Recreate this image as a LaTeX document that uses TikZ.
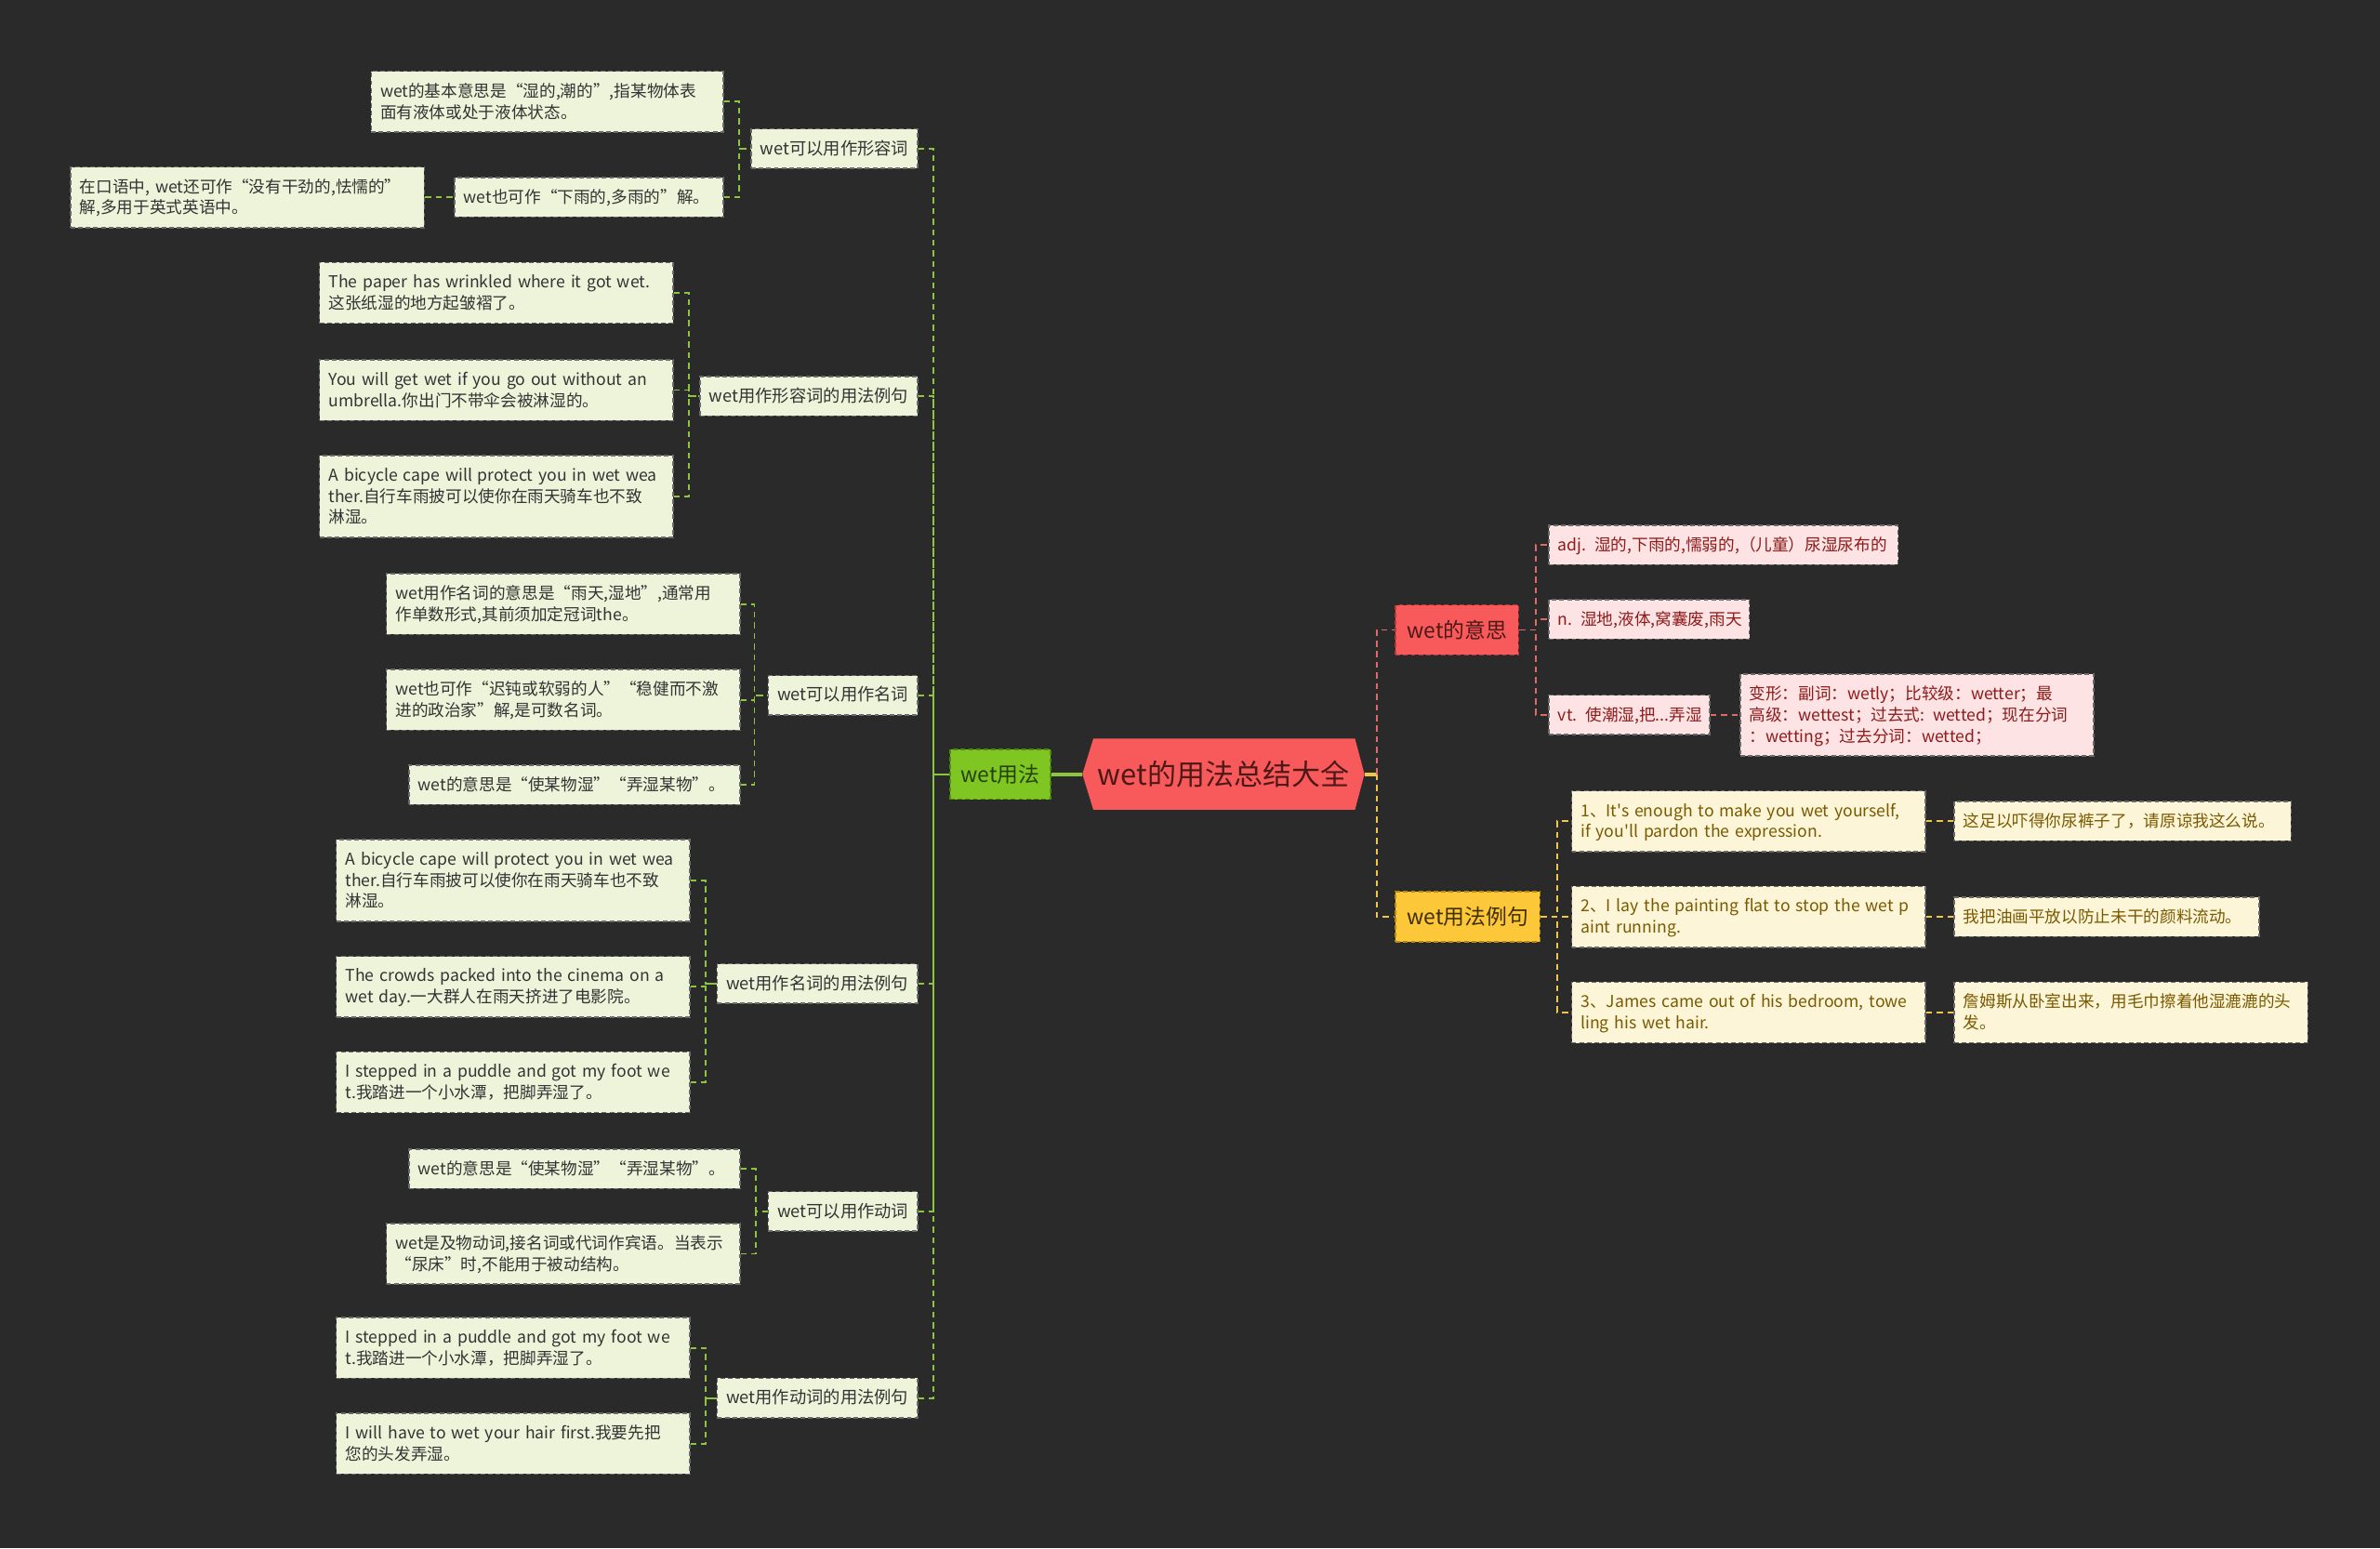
\documentclass[tikz,border=0pt]{standalone}
\usepackage{fontspec}
\newfontfamily\nf{Noto Sans CJK SC}
\definecolor{bgc}{HTML}{2A2A2A}
\definecolor{gfill}{HTML}{EDF4DA}
\definecolor{gtext}{HTML}{333333}
\definecolor{gline}{HTML}{8CC63F}
\definecolor{gL1}{HTML}{80C622}
\definecolor{gL1line}{HTML}{4E8A10}
\definecolor{gL1text}{HTML}{24420A}
\definecolor{rootred}{HTML}{F85A5B}
\definecolor{roottext}{HTML}{4D1818}
\definecolor{rline}{HTML}{E06A6A}
\definecolor{rL1line}{HTML}{B83838}
\definecolor{pfill}{HTML}{FDE3E3}
\definecolor{ptext}{HTML}{8E1B1B}
\definecolor{yline}{HTML}{EFC54A}
\definecolor{yL1}{HTML}{FCC83A}
\definecolor{yL1line}{HTML}{B88A10}
\definecolor{yL1text}{HTML}{3F2E00}
\definecolor{yfill}{HTML}{FDF5D8}
\definecolor{ytext}{HTML}{7A5A00}
\definecolor{boxline}{HTML}{6A6A6A}
\pgfdeclarelayer{bglayer}
\pgfsetlayers{bglayer,main}
\newcommand\mystrut{\rule[-1.6pt]{0pt}{7pt}}
\newcommand\ml[1]{\mbox{#1}}
\begin{document}
\begin{tikzpicture}[x=0.5pt,y=-0.5pt,
  box/.style={draw=boxline, dash pattern=on 1.5pt off 1pt, line width=0.45pt,
    inner xsep=3pt, inner ysep=3pt, align=left,
    execute at begin node=\mystrut, execute at end node=\mystrut},
  gleaf/.style={box, fill=gfill, text=gtext, font=\nf\fontsize{5.4}{7}\selectfont},
  gmid/.style={box, fill=gfill, text=gtext, font=\nf\fontsize{5.6}{7}\selectfont, anchor=east},
  pleaf/.style={box, fill=pfill, text=ptext, font=\nf\fontsize{5.4}{7}\selectfont, anchor=west},
  yleaf/.style={box, fill=yfill, text=ytext, font=\nf\fontsize{5.4}{7}\selectfont, anchor=west},
  lone/.style={draw, dash pattern=on 1.5pt off 1pt, line width=0.5pt,
    font=\nf\fontsize{7}{8}\selectfont, minimum height=16.5pt, inner xsep=2pt},
  gconn/.style={draw=gline, line width=0.55pt, dash pattern=on 2pt off 1.5pt},
  rconn/.style={draw=rline, line width=0.55pt, dash pattern=on 2pt off 1.5pt},
  yconn/.style={draw=yline, line width=0.55pt, dash pattern=on 2pt off 1.5pt}
]
\begin{pgfonlayer}{bglayer}
\fill[bgc] (0,0) rectangle (1568,1020);
\end{pgfonlayer}
\useasboundingbox (0,0) rectangle (1568,1020);

% root
\node[minimum width=92.5pt, minimum height=23pt, inner sep=0pt, text=roottext,
  font=\nf\fontsize{9.5}{11}\selectfont] (root) at (806,510) {wet的用法总结大全};
\begin{pgfonlayer}{bglayer}
\fill[rootred] (root.west) -- ([xshift=3.6pt]root.north west) -- ([xshift=-3.1pt]root.north east)
  -- (root.east) -- ([xshift=-3.1pt]root.south east) -- ([xshift=3.6pt]root.south west) -- cycle;
\end{pgfonlayer}

% level 1
\node[lone, fill=gL1, draw=gL1line, text=gL1text, minimum width=33pt] (yongfa) at (659,510) {wet用法};
\node[lone, fill=rootred, draw=rL1line, text=roottext, minimum width=40.5pt, anchor=west] (yisi) at (919,415) {wet的意思};
\node[lone, fill=yL1, draw=yL1line, text=yL1text, minimum width=47.5pt, anchor=west] (liju) at (919,604) {wet用法例句};

% level 2 (left)
\node[gmid] (xrc) at (605,98) {wet可以用作形容词};
\node[gmid] (xrcl) at (605,261) {wet用作形容词的用法例句};
\node[gmid] (mc) at (605,458) {wet可以用作名词};
\node[gmid] (mcl) at (605,648) {wet用作名词的用法例句};
\node[gmid] (dc) at (605,798) {wet可以用作动词};
\node[gmid] (dcl) at (605,921) {wet用作动词的用法例句};

% group 1
\node[gleaf, anchor=east, text width=110pt] (g1a) at (477,67) {\ml{wet的基本意思是“湿的,潮的”,指某物体表}\\\ml{面有液体或处于液体状态。}};
\node[gleaf, anchor=east, text width=82.5pt] (g1b) at (477,130) {\ml{wet也可作“下雨的,多雨的”解。}};
\node[gleaf, anchor=east, text width=110.5pt] (g1c) at (280,130) {\ml{在口语中, wet还可作“没有干劲的,怯懦的”}\\\ml{解,多用于英式英语中。}};

% group 2
\node[gleaf, anchor=east, text width=110.5pt] (g2a) at (444,193) {\ml{The paper has wrinkled where it got wet.}\\\ml{这张纸湿的地方起皱褶了。}};
\node[gleaf, anchor=east, text width=110.5pt] (g2b) at (444,257) {\ml{You will get wet if you go out without an}\\\ml{umbrella.你出门不带伞会被淋湿的。}};
\node[gleaf, anchor=east, text width=110.5pt] (g2c) at (444,327) {\ml{A bicycle cape will protect you in wet wea}\\\ml{ther.自行车雨披可以使你在雨天骑车也不致}\\\ml{淋湿。}};

% group 3
\node[gleaf, anchor=east, text width=110.5pt] (g3a) at (488,398) {\ml{wet用作名词的意思是“雨天,湿地”,通常用}\\\ml{作单数形式,其前须加定冠词the。}};
\node[gleaf, anchor=east, text width=110.5pt] (g3b) at (488,461) {\ml{wet也可作“迟钝或软弱的人”“稳健而不激}\\\ml{进的政治家”解,是可数名词。}};
\node[gleaf, anchor=east, text width=103pt] (g3c) at (488,517) {\ml{wet的意思是“使某物湿”“弄湿某物”。}};

% group 4
\node[gleaf, anchor=east, text width=110.5pt] (g4a) at (455,580) {\ml{A bicycle cape will protect you in wet wea}\\\ml{ther.自行车雨披可以使你在雨天骑车也不致}\\\ml{淋湿。}};
\node[gleaf, anchor=east, text width=110.5pt] (g4b) at (455,650) {\ml{The crowds packed into the cinema on a}\\\ml{wet day.一大群人在雨天挤进了电影院。}};
\node[gleaf, anchor=east, text width=110.5pt] (g4c) at (455,713) {\ml{I stepped in a puddle and got my foot we}\\\ml{t.我踏进一个小水潭，把脚弄湿了。}};

% group 5
\node[gleaf, anchor=east, text width=103pt] (g5a) at (488,770) {\ml{wet的意思是“使某物湿”“弄湿某物”。}};
\node[gleaf, anchor=east, text width=110.5pt] (g5b) at (488,826) {\ml{wet是及物动词,接名词或代词作宾语。当表示}\\\ml{“尿床”时,不能用于被动结构。}};

% group 6
\node[gleaf, anchor=east, text width=110.5pt] (g6a) at (455,888) {\ml{I stepped in a puddle and got my foot we}\\\ml{t.我踏进一个小水潭，把脚弄湿了。}};
\node[gleaf, anchor=east, text width=110.5pt] (g6b) at (455,951) {\ml{I will have to wet your hair first.我要先把}\\\ml{您的头发弄湿。}};

% right: meanings
\node[pleaf, text width=109pt] (adj) at (1020,359) {\ml{adj. 湿的,下雨的,懦弱的,（儿童）尿湿尿布的}};
\node[pleaf, text width=60pt] (nn) at (1020,408) {\ml{n. 湿地,液体,窝囊废,雨天}};
\node[pleaf, text width=47pt] (vt) at (1020,471) {\ml{vt. 使潮湿,把...弄湿}};
\node[pleaf, text width=110.5pt] (bx) at (1146,471) {\ml{变形：副词：wetly；比较级：wetter；最}\\\ml{高级：wettest；过去式: wetted；现在分词}\\\ml{：wetting；过去分词：wetted；}};

% right: examples
\node[yleaf, text width=110.5pt] (ex1) at (1035,541) {\ml{1、It's enough to make you wet yourself,}\\\ml{if you'll pardon the expression.}};
\node[yleaf, text width=110.5pt] (ex2) at (1035,604) {\ml{2、I lay the painting flat to stop the wet p}\\\ml{aint running.}};
\node[yleaf, text width=110.5pt] (ex3) at (1035,667) {\ml{3、James came out of his bedroom, towe}\\\ml{ling his wet hair.}};
\node[yleaf, text width=105pt] (zh1) at (1287,541) {\ml{这足以吓得你尿裤子了，请原谅我这么说。}};
\node[yleaf, text width=94.5pt] (zh2) at (1287,604) {\ml{我把油画平放以防止未干的颜料流动。}};
\node[yleaf, text width=110.5pt] (zh3) at (1287,667) {\ml{詹姆斯从卧室出来，用毛巾擦着他湿漉漉的头}\\\ml{发。}};

% connectors: root
\draw[gline, line width=1.2pt] (root.west) -- (yongfa.east);
\draw[yline, line width=1.2pt] (root.east) -- ++(8,0);
\draw[rconn] (root.east) ++(8,0) |- (yisi.west);
\draw[yconn] (root.east) ++(8,0) |- (liju.west);

% trunk
\foreach \p in {xrc,xrcl,mc,mcl,dc,dcl}
  \draw[gconn] (\p.east) -- ++(10,0) |- (yongfa.west);

% groups
\foreach \c in {g1a,g1b} \draw[gconn] (\c.east) -- ++(10,0) |- (xrc.west);
\draw[gconn] (g1c.east) -- (g1b.west);
\foreach \c in {g2a,g2b,g2c} \draw[gconn] (\c.east) -- ++(10,0) |- (xrcl.west);
\foreach \c in {g3a,g3b,g3c} \draw[gconn] (\c.east) -- ++(9,0) |- (mc.west);
\foreach \c in {g4a,g4b,g4c} \draw[gconn] (\c.east) -- ++(10,0) |- (mcl.west);
\foreach \c in {g5a,g5b} \draw[gconn] (\c.east) -- ++(10,0) |- (dc.west);
\foreach \c in {g6a,g6b} \draw[gconn] (\c.east) -- ++(10,0) |- (dcl.west);

% right groups
\foreach \c in {adj,nn,vt} \draw[rconn] (yisi.east) -- ++(11,0) |- (\c.west);
\draw[rconn] (vt.east) -- (bx.west);
\foreach \c in {ex1,ex2,ex3} \draw[yconn] (liju.east) -- ++(11,0) |- (\c.west);
\draw[yconn] (ex1.east) -- (zh1.west);
\draw[yconn] (ex2.east) -- (zh2.west);
\draw[yconn] (ex3.east) -- (zh3.west);
\end{tikzpicture}
\end{document}
